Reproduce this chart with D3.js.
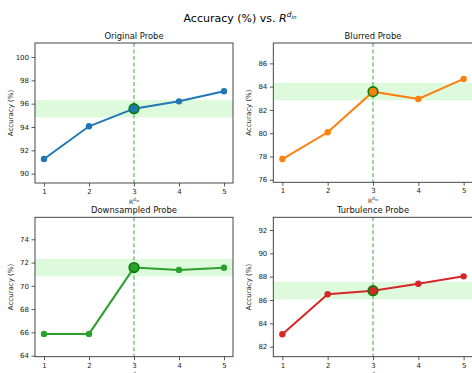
<!DOCTYPE html>
<html><head><meta charset="utf-8">
<script src="https://cdn.jsdelivr.net/npm/d3@7"></script>
<style>body{margin:0;background:#fff;}svg{display:block;font-family:"DejaVu Sans",sans-serif;}</style>
</head><body><svg id="c" width="472" height="373"></svg>
<script>
const xValues = [1, 2, 3, 4, 5];
const titles = ["Original Probe", "Blurred Probe", "Downsampled Probe", "Turbulence Probe"];
const colors = ["#1f77b4", "#ff7f0e", "#2ca02c", "#d62728"];
const originalAcc = [91.26, 94.06, 95.57, 96.2, 97.06];
const blurredAcc = [77.78, 80.08, 83.57, 82.94, 84.66];
const downsampledAcc = [65.87, 65.87, 71.57, 71.37, 71.55];
const turbulenceAcc = [83.06, 86.49, 86.8, 87.4, 88.03];
const yDomains = [[89.2, 101.2], [75.78, 87.75], [63.91, 75.89], [81.14, 93.09]];
const yTicks = [[90, 92, 94, 96, 98, 100], [76, 78, 80, 82, 84, 86], [64, 66, 68, 70, 72, 74], [82, 84, 86, 88, 90, 92]];
const highlightX = 3;
const bandHalf = 0.75;
const series = [originalAcc, blurredAcc, downsampledAcc, turbulenceAcc];

const svg = d3.select("#c");
svg.append("text").attr("x", 240).attr("y", 22).attr("text-anchor", "middle")
  .attr("font-size", 11).attr("fill", "#000")
  .html('Accuracy (%) vs. <tspan font-style="italic">R</tspan><tspan dy="-5" font-size="7.5" font-style="italic">d</tspan><tspan dy="2" font-size="5.5" font-style="italic">in</tspan>');

const panels = [
  {l: 35, r: 233, t: 43, b: 183},
  {l: 273.3, r: 472.7, t: 43, b: 182.3},
  {l: 35, r: 233, t: 217.3, b: 356.7},
  {l: 273.3, r: 472.7, t: 217.3, b: 356.7}
];

panels.forEach((p, i) => {
  const g = svg.append("g");
  const x = d3.scaleLinear().domain([0.8, 5.2]).range([p.l, p.r]);
  const y = d3.scaleLinear().domain(yDomains[i]).range([p.b, p.t]);
  const data = series[i];
  const hv = data[xValues.indexOf(highlightX)];
  g.append("rect").attr("x", p.l).attr("width", p.r - p.l)
    .attr("y", y(hv + bandHalf)).attr("height", y(hv - bandHalf) - y(hv + bandHalf))
    .attr("fill", "#90ee90").attr("fill-opacity", 0.3);
  g.append("line").attr("x1", x(highlightX)).attr("x2", x(highlightX)).attr("y1", p.t).attr("y2", p.b)
    .attr("stroke", "#2ca02c").attr("stroke-opacity", 0.7).attr("stroke-width", 1.3).attr("stroke-dasharray", "4,2.5");
  const line = d3.line().x((d, j) => x(xValues[j])).y(d => y(d));
  g.append("path").datum(data).attr("d", line).attr("fill", "none").attr("stroke", colors[i]).attr("stroke-width", 2);
  g.selectAll("circle.pt").data(data).enter().append("circle")
    .attr("cx", (d, j) => x(xValues[j])).attr("cy", d => y(d)).attr("r", 3.2).attr("fill", colors[i]);
  g.append("circle").attr("cx", x(highlightX)).attr("cy", y(hv)).attr("r", 4.8)
    .attr("fill", colors[i]).attr("stroke", "#008000").attr("stroke-width", 1.6);
  const ax = g.append("g").attr("transform", `translate(0,${p.b})`)
    .call(d3.axisBottom(x).tickValues(xValues).tickSize(3.5).tickPadding(2.5).tickFormat(d3.format("d")));
  const ay = g.append("g").attr("transform", `translate(${p.l},0)`)
    .call(d3.axisLeft(y).tickValues(yTicks[i]).tickSize(3.5).tickPadding(2.5).tickFormat(d3.format("d")));
  [ax, ay].forEach(a => {
    a.select(".domain").remove();
    a.selectAll("text").attr("font-size", 7).attr("fill", "#222").attr("font-family", "DejaVu Sans");
    a.selectAll("line").attr("stroke", "#333").attr("stroke-width", 0.8);
  });
  g.append("rect").attr("x", p.l).attr("y", p.t).attr("width", p.r - p.l).attr("height", p.b - p.t)
    .attr("fill", "none").attr("stroke", "#333").attr("stroke-width", 0.9);
  g.append("text").attr("x", (p.l + p.r) / 2).attr("y", p.t - 4).attr("text-anchor", "middle")
    .attr("font-size", 8.4).attr("fill", "#111").text(titles[i]);
  g.append("text").attr("transform", `translate(${p.l - 22},${(p.t + p.b) / 2}) rotate(-90)`)
    .attr("text-anchor", "middle").attr("font-size", 7).attr("fill", "#222").text("Accuracy (%)");
  g.append("text").attr("x", x(3)).attr("y", p.b + 21).attr("text-anchor", "middle")
    .attr("font-size", 6).attr("fill", "#222")
    .html('R<tspan dy="-3" font-size="4.5">d</tspan><tspan dy="1" font-size="3.5">in</tspan>');
});
</script></body></html>
